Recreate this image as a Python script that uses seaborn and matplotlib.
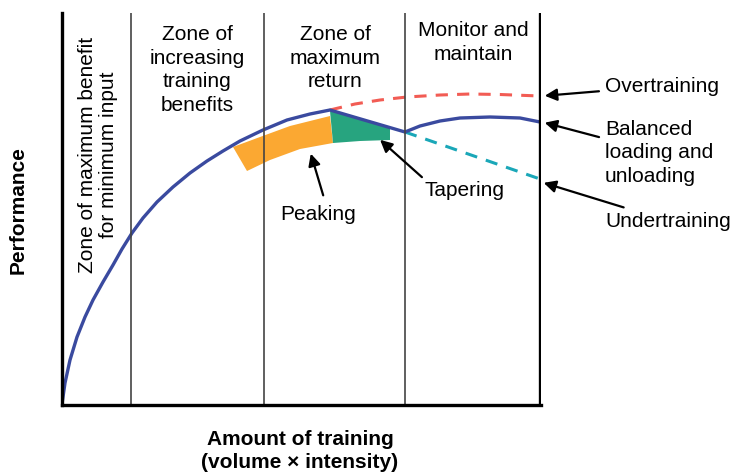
import seaborn as sns
import matplotlib.pyplot as plt

# coordenadas: x = px - 62, y = 405 - py
curva_x = [0, 3, 8, 15, 23, 31, 41, 51, 60, 70, 81, 95, 111, 128, 145, 161, 178, 201, 225, 248, 268,
           343, 358, 378, 398, 428, 458, 478]
curva_y = [1, 22, 45, 68, 88, 105, 123, 140, 156, 172, 187, 203, 218, 232, 244, 254, 264, 275, 285, 291, 295,
           273, 279, 284, 287, 288, 287, 283]

sobre_x = [268, 293, 318, 345, 378, 408, 438, 478]
sobre_y = [295, 301, 305, 308, 310, 311, 310.5, 309]

bajo_x = [343, 478]
bajo_y = [273, 226]

# banda naranja (peaking) y verde (tapering)
naranja_sup_x = [171, 198, 228, 268]
naranja_sup_y = [258, 268, 279, 289]
naranja_inf_x = [271, 238, 208, 185]
naranja_inf_y = [262, 256, 245, 234]

verde_sup_x = [268, 298, 328]
verde_sup_y = [294, 286, 278]
verde_inf_x = [328, 298, 271]
verde_inf_y = [265, 264, 262]

zonas = [69, 202, 343]
borde = 478

sns.set_style('white')
plt.rcParams['font.family'] = ['Liberation Sans', 'DejaVu Sans']
plt.rcParams['text.color'] = 'black'

fig = plt.figure(figsize=(7.31, 4.74), dpi=100)
ax = fig.add_axes([62 / 731, 1 - 405 / 474, 479 / 731, 392 / 474])

ax.fill(naranja_sup_x + naranja_inf_x, naranja_sup_y + naranja_inf_y, color='#FBA832', lw=0)
ax.fill(verde_sup_x + verde_inf_x, verde_sup_y + verde_inf_y, color='#27A47F', lw=0)

sns.lineplot(x=sobre_x, y=sobre_y, ax=ax, color='#F25C54', lw=2.2, linestyle=(0, (4, 3)), sort=False)
sns.lineplot(x=bajo_x, y=bajo_y, ax=ax, color='#1AA7B8', lw=2.2, linestyle=(0, (4, 3)), sort=False)
sns.lineplot(x=curva_x, y=curva_y, ax=ax, color='#3A4A9F', lw=2.4, sort=False)

for z in zonas:
    ax.axvline(z, color='#444444', lw=1.2)
ax.axvline(borde, color='black', lw=2.4)

ax.set_xlim(0, 479)
ax.set_ylim(0, 392)
ax.set_xticks([])
ax.set_yticks([])
for s in ['top', 'right']:
    ax.spines[s].set_visible(False)
for s in ['left', 'bottom']:
    ax.spines[s].set_color('black')
    ax.spines[s].set_linewidth(2.4)

fs = 15
ax.text(36, 368, 'Zone of maximum benefit\nfor minimum input', rotation=90, ha='center', va='top',
        fontsize=fs, linespacing=1.15)
ax.text(135, 380, 'Zone of\nincreasing\ntraining\nbenefits', ha='center', va='top', fontsize=fs, linespacing=1.3)
ax.text(273, 380, 'Zone of\nmaximum\nreturn', ha='center', va='top', fontsize=fs, linespacing=1.3)
ax.text(411, 384, 'Monitor and\nmaintain', ha='center', va='top', fontsize=fs, linespacing=1.3)

flecha = dict(arrowstyle='-|>', color='black', lw=1.6, mutation_scale=18)
ax.annotate('', xy=(248, 254), xytext=(262, 207), arrowprops=flecha, annotation_clip=False)
ax.text(256, 191, 'Peaking', ha='center', va='center', fontsize=fs)
ax.annotate('', xy=(316, 267), xytext=(362, 226), arrowprops=flecha, annotation_clip=False)
ax.text(403, 214, 'Tapering', ha='center', va='center', fontsize=fs)

ax.annotate('Overtraining', xy=(480, 309), xytext=(543, 319), arrowprops=flecha,
            annotation_clip=False, ha='left', va='center', fontsize=fs)
ax.annotate('Balanced\nloading and\nunloading', xy=(480, 283), xytext=(543, 252), arrowprops=flecha,
            annotation_clip=False, ha='left', va='center', fontsize=fs, linespacing=1.3)
ax.annotate('Undertraining', xy=(479, 223), xytext=(543, 184), arrowprops=flecha,
            annotation_clip=False, ha='left', va='center', fontsize=fs)

fig.text(300 / 731, 1 - 451 / 474, 'Amount of training\n(volume × intensity)', ha='center', va='center',
         fontsize=fs, fontweight='bold', linespacing=1.3)
fig.text(18 / 731, 1 - 210 / 474, 'Performance', rotation=90, ha='center', va='center',
         fontsize=fs, fontweight='bold')

plt.savefig('out.png', dpi=100)
